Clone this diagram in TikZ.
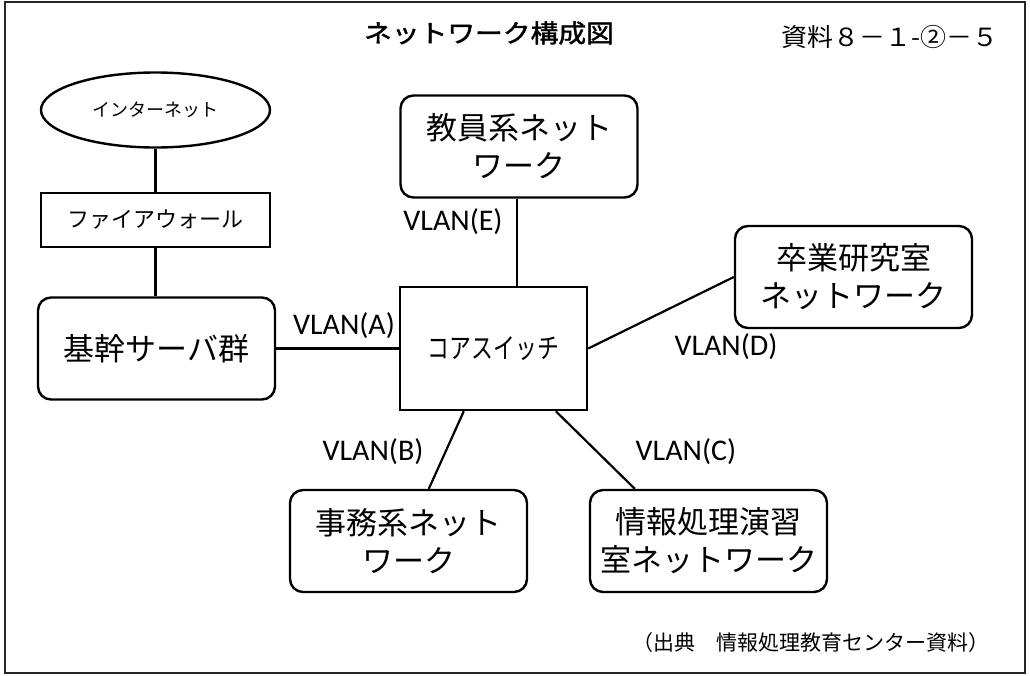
\documentclass[tikz,border=0pt]{standalone}
\usepackage{fontspec}
\setmainfont{Noto Sans CJK JP}
\newfontfamily\vlfont{Carlito}
\newfontfamily\titlefont[FakeBold=1.6]{Noto Sans CJK JP}
\usetikzlibrary{shapes.geometric}
\begin{document}
\begin{tikzpicture}[x=1pt,y=-1pt,
  box/.style={draw,line width=2.4pt,rounded corners=13pt,minimum width=237pt,minimum height=102pt,inner sep=0pt,align=center,font=\fontsize{31}{38}\selectfont},
  sqbox/.style={draw,line width=2.4pt,inner sep=0pt,align=center},
  ell/.style={draw,line width=2.4pt,ellipse,inner sep=0pt,minimum width=229pt,minimum height=75pt,font=\fontsize{18}{22}\selectfont},
  conn/.style={line width=2.2pt},
  vlan/.style={font=\vlfont\fontsize{30}{34}\selectfont,inner sep=0pt}
]
\useasboundingbox (0,0) rectangle (1030,675);
\draw[line width=1.8pt,black!85] (5,2) rectangle (1025,673);

\node[font=\titlefont\fontsize{25}{28}\selectfont] (title) at (489,33) {\scalebox{1.11}[1]{ネットワーク構成図}};
\node[anchor=east,font=\fontsize{25}{28}\selectfont] (ref) at (1002,37) {\scalebox{1.04}[1]{資料８－１-②－５}};

\node[ell] (inet) at (155.5,110) {インターネット};
\node[sqbox,minimum width=229pt,minimum height=54pt,font=\fontsize{22}{26}\selectfont] (fw) at (155.5,220) {ファイアウォール};
\node[box] (kikan) at (156.5,348.5) {基幹サーバ群};
\node[sqbox,minimum width=187pt,minimum height=123pt,font=\fontsize{28}{32}\selectfont] (core) at (493.5,348.5) {\scalebox{0.78}[1]{コアスイッチ}};
\node[box] (kyoin) at (519,146.5) {教員系ネット\\ワーク};
\node[box] (sotsu) at (853.5,277) {卒業研究室\\ネットワーク};
\node[box] (jimu) at (408.5,541) {事務系ネット\\ワーク};
\node[box] (joho) at (708.5,541) {情報処理演習\\室ネットワーク};

\draw[conn] (inet.south) -- (fw.north);
\draw[conn] (fw.south) -- (fw.south |- kikan.north);
\draw[conn] (kikan.east) -- (kikan.east -| core.west);
\draw[conn] ([xshift=-2pt]kyoin.south) -- ([xshift=-2pt]kyoin.south |- core.north);
\draw[conn] (core.east) -- (sotsu.west);
\draw[conn] ([xshift=65pt]core.south west) -- ([xshift=140pt]jimu.north west);
\draw[conn] ([xshift=157pt]core.south west) -- ([xshift=46pt]joho.north west);

\node[vlan] (la) at (344,326) {VLAN(A)};
\node[vlan] (le) at (453,222) {VLAN(E)};
\node[vlan] (ld) at (726,347) {VLAN(D)};
\node[vlan] (lb) at (373,452) {VLAN(B)};
\node[vlan] (lc) at (686,452) {VLAN(C)};

\node[anchor=east,font=\fontsize{21}{24}\selectfont] (src) at (993,643) {（出典　情報処理教育センター資料）};
\end{tikzpicture}
\end{document}
